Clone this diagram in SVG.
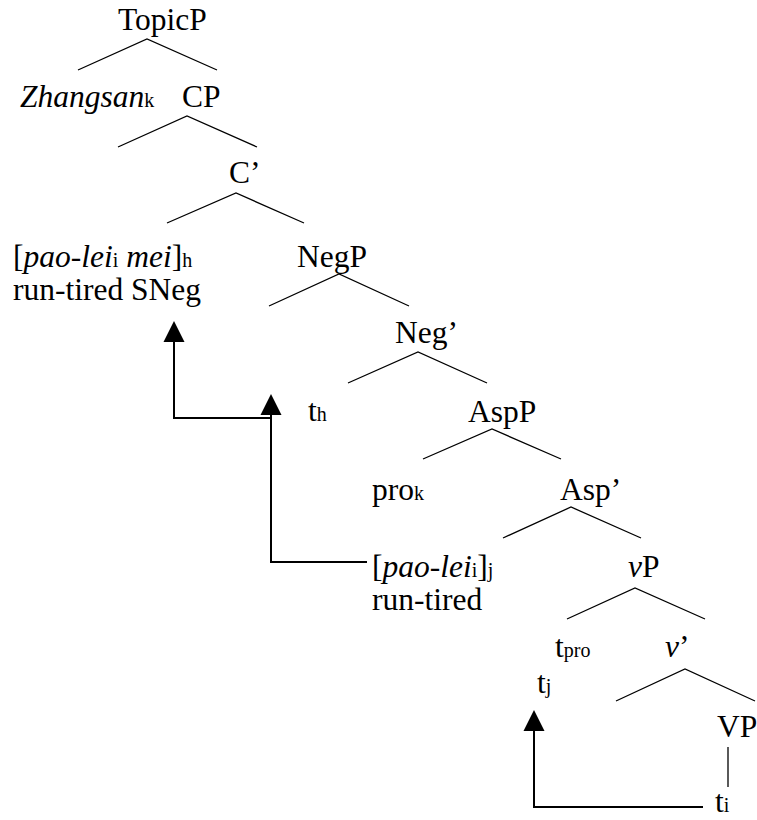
<svg xmlns="http://www.w3.org/2000/svg" width="757" height="820" viewBox="0 0 757 820">
<style>
text{font-family:'Liberation Serif',serif;font-size:31.5px;fill:#000}
.s{font-size:20px}
.i{font-style:italic}
.br{stroke:#000;stroke-width:1.3;fill:none}
.ar{stroke:#000;stroke-width:2;fill:none}
</style>
<defs>
<marker id="ah" markerUnits="userSpaceOnUse" markerWidth="22" markerHeight="22" refX="0" refY="10.5" orient="auto" viewBox="0 0 22 21">
<path d="M0,0 L21,10.5 L0,21 z" fill="#000"/>
</marker>
</defs>
<rect width="757" height="820" fill="#fff"/>
<g id="connectors">
<polyline class="br" points="78,70 147,39 217,70"/>
<polyline class="br" points="118,147 187,116 257,147"/>
<polyline class="br" points="167,223 236,193 304,223"/>
<polyline class="br" points="269,306 339,274 409,306"/>
<polyline class="br" points="348,383 418,352 487,383"/>
<polyline class="br" points="423,459 492,429 561,459"/>
<polyline class="br" points="503,538 571,507 641,538"/>
<polyline class="br" points="567,619 635,588 705,619"/>
<polyline class="br" points="616,701 685,669 755,701"/>
<line class="br" x1="728" y1="747" x2="728" y2="787"/>
<polyline class="ar" points="271,418 174,418 174,342" marker-end="url(#ah)"/>
<polyline class="ar" points="367,562 271,562 271,415" marker-end="url(#ah)"/>
<polyline class="ar" points="703,807 534,807 534,731" marker-end="url(#ah)"/>
</g>
<g id="n-topicp"><text x="118" y="30">TopicP</text></g>
<g id="n-zhangsan"><text x="20" y="107"><tspan class="i">Zhangsan</tspan><tspan class="s">k</tspan></text></g>
<g id="n-cp"><text x="182" y="107">CP</text></g>
<g id="n-cbar"><text x="229" y="183">C’</text></g>
<g id="n-paoleimei"><text x="13" y="267">[<tspan class="i">pao-lei</tspan><tspan class="s">i</tspan> <tspan class="i">mei</tspan>]<tspan class="s">h</tspan></text><text x="13" y="300">run-tired SNeg</text></g>
<g id="n-negp"><text x="297" y="267">NegP</text></g>
<g id="n-negbar"><text x="395" y="343">Neg’</text></g>
<g id="n-th"><text x="308" y="421">t<tspan class="s">h</tspan></text></g>
<g id="n-aspp"><text x="468" y="422">AspP</text></g>
<g id="n-prok"><text x="372" y="500">pro<tspan class="s">k</tspan></text></g>
<g id="n-aspbar"><text x="560" y="500">Asp’</text></g>
<g id="n-paolei"><text x="372" y="577">[<tspan class="i">pao-lei</tspan><tspan class="s">i</tspan>]<tspan class="s">j</tspan></text><text x="372" y="610">run-tired</text></g>
<g id="n-vp"><text x="628" y="577"><tspan class="i">v</tspan>P</text></g>
<g id="n-tpro"><text x="555" y="657">t<tspan class="s">pro</tspan></text></g>
<g id="n-vbar"><text x="665" y="657"><tspan class="i">v</tspan>’</text></g>
<g id="n-tj"><text x="537" y="693">t<tspan class="s">j</tspan></text></g>
<g id="n-VP"><text x="717" y="737">VP</text></g>
<g id="n-ti"><text x="715" y="812">t<tspan class="s">i</tspan></text></g>
</svg>
